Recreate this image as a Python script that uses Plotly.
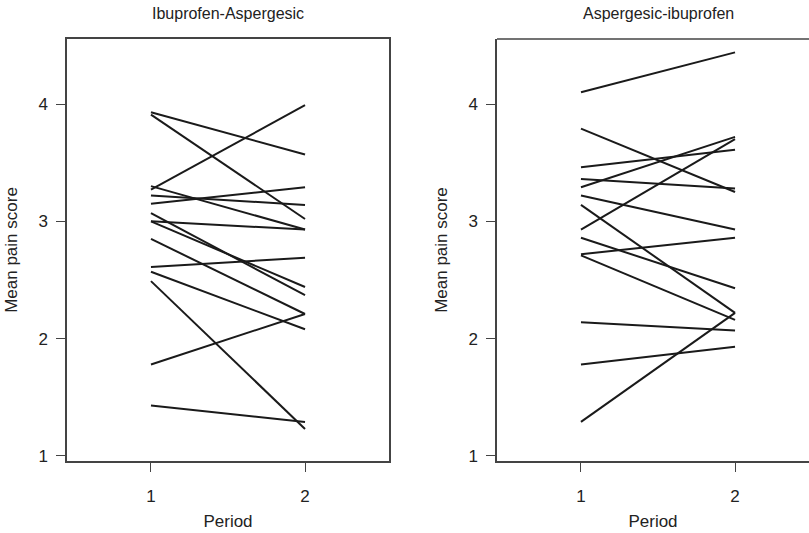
import plotly.graph_objects as go
from plotly.subplots import make_subplots

# Mean pain score per patient, period 1 and period 2
ibu_asp_p1 = [3.93, 3.91, 3.27, 3.30, 3.22, 3.15, 3.00, 3.07, 3.00, 2.85, 2.61, 2.57, 2.49, 1.78, 1.43]
ibu_asp_p2 = [3.57, 3.02, 3.99, 2.93, 3.14, 3.29, 2.93, 2.37, 2.44, 2.21, 2.69, 2.08, 1.23, 2.21, 1.29]

asp_ibu_p1 = [4.10, 3.79, 3.46, 3.36, 3.29, 2.93, 3.22, 3.14, 2.86, 2.72, 2.71, 2.14, 1.78, 1.29]
asp_ibu_p2 = [4.44, 3.25, 3.61, 3.28, 3.72, 3.70, 2.93, 2.22, 2.43, 2.86, 2.16, 2.07, 1.93, 2.22]

periods = [1, 2]
panel_titles = ["Ibuprofen-Aspergesic", "Aspergesic-ibuprofen"]
y_ticks = [1, 2, 3, 4]

W, H = 809, 533
ML, MR, MT, MB = 67, 0, 39, 72
pw = W - ML - MR
panel_w = 322  # pixel width of a full panel

fig = make_subplots(rows=1, cols=2)

line_style = dict(color="#1a1a1a", width=2)
for col, (p1, p2) in enumerate([(ibu_asp_p1, ibu_asp_p2), (asp_ibu_p1, asp_ibu_p2)], start=1):
    for a, b in zip(p1, p2):
        fig.add_trace(
            go.Scatter(x=periods, y=[a, b], mode="lines", line=line_style,
                       showlegend=False, hoverinfo="skip"),
            row=1, col=col,
        )

family = "Liberation Sans, Arial, sans-serif"
font = dict(family=family, size=17, color="#222")
title_font = dict(family=family, size=16, color="#222")

axis_common = dict(
    showgrid=False, zeroline=False, showline=True, linecolor="#444", linewidth=1.5,
    ticks="outside", ticklen=9, tickwidth=1.2, tickcolor="#444",
    tickfont=font,
)
x_common = dict(tickvals=periods, ticklabelstandoff=10,
                title=dict(text="Period", font=font, standoff=10), **axis_common)
y_common = dict(range=[0.957, 4.554], tickvals=y_ticks, ticklabelstandoff=5,
                title=dict(text="Mean pain score", font=font, standoff=16), **axis_common)

left_dom = [0, panel_w / pw]
right_dom = [(497 - ML) / pw, 1.0]

fig.update_layout(
    width=W, height=H,
    margin=dict(l=ML, r=MR, t=MT, b=MB),
    plot_bgcolor="white", paper_bgcolor="white",
    font=font,
    xaxis=dict(domain=left_dom, range=[0.455, 2.545], mirror=True, **x_common),
    xaxis2=dict(domain=right_dom, range=[0.455, 2.48], mirror=False, **x_common),
    yaxis=dict(mirror=True, **y_common),
    yaxis2=dict(mirror=False, **y_common),
)

# top border of the right panel (its right edge runs off the page)
fig.add_shape(type="line", xref="x2 domain", yref="y2 domain",
              x0=0, x1=1, y0=1, y1=1, line=dict(color="#444", width=1.5))

# panel titles centred over each full-width panel
centres = [left_dom[0] + panel_w / pw / 2, right_dom[0] + panel_w / pw / 2]
for cx, title in zip(centres, panel_titles):
    fig.add_annotation(text=title, xref="paper", yref="paper", x=cx, y=1,
                       xanchor="center", yanchor="bottom", yshift=15,
                       showarrow=False, font=title_font)

fig.write_html("out.html")
